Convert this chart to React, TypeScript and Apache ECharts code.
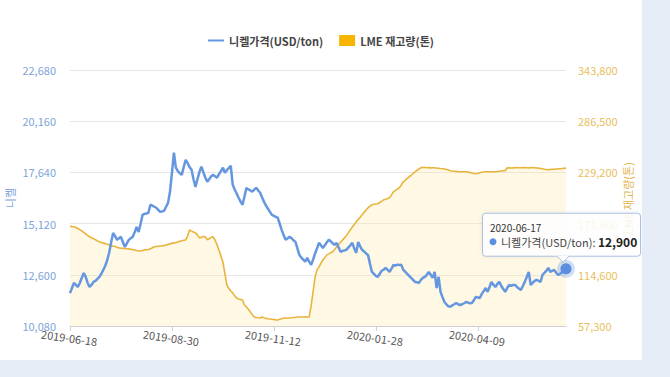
import React, { useEffect, useRef } from "react";
import * as echarts from "echarts";

// LME trading days between the first and last date (weekends and UK holidays excluded)
const START_DATE = "2019-06-18";
const END_DATE = "2020-06-17";
const HOLIDAYS = ["2019-08-26", "2019-12-25", "2019-12-26", "2020-01-01", "2020-04-10", "2020-04-13", "2020-05-08", "2020-05-25"];

function buildDates(start: string, end: string, holidays: string[]): string[] {
  const out: string[] = [];
  const d = new Date(start + "T00:00:00Z");
  const e = new Date(end + "T00:00:00Z");
  while (d <= e) {
    const day = d.getUTCDay();
    const s = d.toISOString().slice(0, 10);
    if (day !== 0 && day !== 6 && holidays.indexOf(s) < 0) out.push(s);
    d.setUTCDate(d.getUTCDate() + 1);
  }
  return out;
}
const dates = buildDates(START_DATE, END_DATE, HOLIDAYS);

const nickelPrice = [
  11700, 11950, 12200, 12100, 12000, 12200, 12450, 12690, 12500, 12200,
  12000, 12100, 12250, 12300, 12400, 12500, 12650, 12840, 13050, 13330,
  13700, 14200, 14660, 14500, 14320, 14400, 14470, 14200, 13970, 14150,
  14320, 14400, 14470, 14700, 14960, 14710, 15100, 15550, 15600, 15620,
  15650, 16050, 16000, 15950, 15900, 15800, 15700, 15720, 15750, 15950,
  16140, 16690, 17600, 18610, 17870, 17700, 17600, 17520, 17900, 18260,
  18100, 17900, 17770, 17300, 16930, 17300, 17650, 17920, 17650, 17400,
  17180, 17300, 17450, 17520, 17450, 17380, 17550, 17700, 17870, 17620,
  17750, 17850, 17970, 17030, 16800, 16600, 16390, 16200, 16050, 16450,
  16880, 16800, 16750, 16690, 16800, 16880, 16750, 16640, 16400, 16190,
  16000, 15850, 15700, 15550, 15500, 15450, 15400, 15100, 14800, 14550,
  14320, 14400, 14470, 14400, 14300, 14220, 13900, 13580, 13450, 13350,
  13240, 13430, 13250, 13090, 13350, 13650, 13900, 14170, 14050, 13920,
  14050, 14200, 14320, 14250, 14150, 14070, 14170, 13950, 13730, 13780,
  13800, 13830, 13950, 14050, 14170, 13900, 13680, 14220, 14000, 13830,
  13750, 13650, 13580, 13150, 12740, 12650, 12550, 12500, 12650, 12800,
  12850, 12940, 12850, 12740, 12900, 13090, 13050, 13100, 13080, 13090,
  12840, 12750, 12650, 12550, 12450, 12350, 12250, 12230, 12200, 12350,
  12450, 12500, 12600, 12740, 12600, 12450, 12740, 11950, 12500, 11760,
  11500, 11260, 11150, 11050, 11020, 11100, 11150, 11210, 11150, 11110,
  11150, 11200, 11260, 11230, 11200, 11210, 11350, 11510, 11480, 11460,
  11650, 11800, 11950, 11760, 12000, 12250, 12100, 12000, 12150, 12250,
  12050, 11900, 11760, 11950, 12100, 12050, 12100, 12100, 12000, 11920,
  11860, 12050, 12250, 12500, 12740, 12100, 12200, 12300, 12350, 12300,
  12250, 12590, 12700, 12800, 12940, 12740, 12800, 12840, 12700, 12590,
  12650, 12750, 12700, 12900,
];

const lmeStock = [
  169000, 168500, 168300, 167500, 166500, 165000, 163800, 162000, 160500, 158800,
  157100, 156000, 155000, 153800, 152600, 151500, 150800, 150200, 149500, 148800,
  148100, 147500, 146800, 146200, 145400, 144700, 144400, 144200, 144000, 143800,
  143600, 143200, 142800, 142300, 141800, 141400, 141200, 141800, 142500, 142700,
  143000, 143600, 144800, 145900, 146200, 146500, 146800, 147000, 147400, 147800,
  148500, 149200, 149800, 150300, 150800, 151400, 152000, 152600, 153200, 153700,
  158000, 164900, 163500, 162500, 161500, 159300, 155900, 156500, 157500, 157100,
  153700, 155000, 156500, 157100, 153500, 148100, 142000, 135500, 129000, 116000,
  103300, 99500, 96500, 94300, 91000, 88700, 87500, 87000, 86400, 80800,
  78500, 76000, 73000, 70000, 67400, 66800, 66500, 66300, 67400, 66500,
  65800, 65400, 65100, 64800, 64500, 64200, 64000, 64800, 65500, 66300,
  66300, 66200, 66300, 66500, 66800, 67000, 67400, 67400, 67300, 67400,
  67500, 67400, 67400, 80000, 95400, 112000, 120100, 123400, 127500, 131300,
  134000, 136900, 138000, 139200, 140300, 143000, 145900, 148500, 151000, 153500,
  155900, 158500, 161800, 164900, 168000, 171000, 173900, 176500, 179000, 181700,
  184500, 187000, 189600, 191500, 193000, 193500, 193800, 194100, 195500, 197000,
  198500, 199200, 200000, 200800, 204000, 207500, 209000, 210500, 212000, 215000,
  218700, 220500, 222500, 224300, 226000, 228000, 229900, 231500, 233000, 234400,
  234800, 234600, 234400, 234500, 234300, 234400, 234400, 234000, 233800, 233500,
  233300, 233000, 232500, 231800, 231100, 230800, 230500, 230300, 230100, 230000,
  229900, 229900, 229900, 229500, 229000, 228500, 228000, 227700, 228200, 228800,
  229300, 229600, 229900, 230000, 229900, 229900, 230000, 229900, 230200, 230500,
  230800, 231000, 231100, 234400, 234300, 234200, 234300, 234400, 234500, 234400,
  234400, 234500, 234500, 234400, 234300, 234400, 234500, 234400, 234200, 234000,
  233600, 233200, 232800, 232500, 232200, 232400, 232600, 232800, 233000, 233200,
  233300, 233500, 233800, 234000,
];

const LEFT_MIN = 10080;
const LEFT_MAX = 22680;
const LEFT_STEP = 2520;
const RIGHT_MIN = 57300;
const RIGHT_MAX = 343800;
const RIGHT_STEP = 57300;

const NICKEL_NAME = "니켈가격(USD/ton)";
const LME_NAME = "LME 재고량(톤)";
const LEFT_AXIS_NAME = "니켈";
const RIGHT_AXIS_NAME = "LME 재고량(톤)";
const LABEL_EVERY = 52;
const TIP_INDEX = nickelPrice.length - 1;

const FONT = "'Noto Sans CJK KR', 'Noto Sans', sans-serif";
const BLUE = "#6596e0";
const ORANGE = "#e9b43c";

export default function App() {
  const ref = useRef<HTMLDivElement>(null);
  useEffect(() => {
    document.body.style.margin = "0";
    if (!ref.current) return;
    const chart = echarts.init(ref.current, undefined, { renderer: "svg" });
    chart.setOption({
      animation: false,
      textStyle: { fontFamily: FONT },
      legend: {
        top: 30,
        left: "center",
        itemGap: 16,
        itemWidth: 16,
        itemHeight: 11,
        textStyle: { fontFamily: FONT, fontSize: 11, fontWeight: "bold", color: "#444" },
        data: [
          { name: NICKEL_NAME, icon: "path://M0,0 H16 V2 H0 Z", itemStyle: { color: BLUE } },
          { name: LME_NAME, icon: "rect", itemStyle: { color: "#f6b500" } },
        ],
      },
      grid: { left: 70, right: 76, top: 70, bottom: 34, outerBoundsMode: "none", containLabel: false },
      xAxis: {
        type: "category",
        data: dates,
        boundaryGap: false,
        axisLine: { lineStyle: { color: "#cfcfcf" } },
        axisTick: { interval: LABEL_EVERY - 1, length: 5, lineStyle: { color: "#cfcfcf" } },
        axisLabel: {
          interval: LABEL_EVERY - 1,
          rotate: -8,
          align: "center",
          verticalAlign: "top",
          margin: 6,
          color: "#555",
          fontSize: 11,
          fontFamily: FONT,
        },
        splitLine: { show: false },
      },
      yAxis: [
        {
          type: "value",
          min: LEFT_MIN,
          max: LEFT_MAX,
          interval: LEFT_STEP,
          name: LEFT_AXIS_NAME,
          nameLocation: "middle",
          nameGap: 55,
          nameMoveOverlap: false,
          nameTextStyle: { color: "#7ea4d8", fontSize: 11, fontFamily: FONT },
          axisLine: { show: false },
          axisTick: { show: false },
          axisLabel: { color: "#7ea4d8", fontSize: 11, margin: 14, fontFamily: FONT },
          splitLine: { lineStyle: { color: "#e6e6e6" } },
        },
        {
          type: "value",
          min: RIGHT_MIN,
          max: RIGHT_MAX,
          interval: RIGHT_STEP,
          name: RIGHT_AXIS_NAME,
          nameLocation: "middle",
          nameGap: 56,
          nameMoveOverlap: false,
          nameTextStyle: { color: "#e3b44a", fontSize: 11, fontFamily: FONT },
          axisLine: { show: false },
          axisTick: { show: false },
          axisLabel: { color: "#e8bf5c", fontSize: 11, margin: 12, fontFamily: FONT },
          splitLine: { show: false },
        },
      ],
      series: [
        {
          name: NICKEL_NAME,
          type: "line",
          yAxisIndex: 0,
          data: nickelPrice,
          showSymbol: false,
          symbol: "none",
          z: 3,
          lineStyle: { color: BLUE, width: 2.5 },
          itemStyle: { color: BLUE },
        },
        {
          name: LME_NAME,
          type: "line",
          yAxisIndex: 1,
          data: lmeStock,
          showSymbol: false,
          symbol: "none",
          z: 2,
          lineStyle: { color: ORANGE, width: 1.6 },
          itemStyle: { color: "#f6b500" },
          areaStyle: { color: "rgba(253, 232, 170, 0.45)" },
        },
      ],
    });

    const p = chart.convertToPixel({ seriesIndex: 0 }, [TIP_INDEX, nickelPrice[TIP_INDEX]]) as number[];
    const px = p[0];
    const py = p[1];
    const tipValue = nickelPrice[TIP_INDEX].toLocaleString("en-US");
    chart.setOption({
      graphic: [
        { type: "circle", z: 50, shape: { cx: px, cy: py, r: 9 }, style: { fill: "rgba(101,150,224,0.3)" } },
        { type: "circle", z: 51, shape: { cx: px, cy: py, r: 5.5 }, style: { fill: "#5b8ee0" } },
        {
          type: "rect",
          z: 60,
          shape: { x: px - 83.5, y: py - 55.5, width: 158, height: 43, r: 3 },
          style: { fill: "rgba(255,255,255,0.86)", stroke: "#a9c1e4", lineWidth: 1, shadowBlur: 4, shadowColor: "rgba(0,0,0,0.08)" },
        },
        {
          type: "polygon",
          z: 61,
          shape: { points: [[px - 9, py - 13], [px + 3, py - 13], [px - 3, py - 7]] },
          style: { fill: "#ffffff" },
        },
        {
          type: "polyline",
          z: 62,
          shape: { points: [[px - 9, py - 12.5], [px - 3, py - 6.5], [px + 3, py - 12.5]] },
          style: { stroke: "#a9c1e4", lineWidth: 1, fill: "none" },
        },
        {
          type: "text",
          z: 63,
          x: px - 76,
          y: py - 41,
          style: { text: dates[TIP_INDEX], fontSize: 10, fill: "#333", fontFamily: FONT, verticalAlign: "middle" },
        },
        { type: "circle", z: 63, shape: { cx: px - 73, cy: py - 27, r: 3.5 }, style: { fill: "#5b8ee0" } },
        {
          type: "text",
          z: 63,
          x: px - 65,
          y: py - 27,
          style: {
            text: "{a|" + NICKEL_NAME + ": }{b|" + tipValue + "}",
            verticalAlign: "middle",
            fontFamily: FONT,
            rich: {
              a: { fontSize: 11, fill: "#444", fontFamily: FONT },
              b: { fontSize: 12, fill: "#222", fontWeight: "bold", fontFamily: FONT },
            },
          },
        },
      ],
    });
    return () => chart.dispose();
  }, []);

  return (
    <div style={{ width: 670, height: 377, background: "#e6edf6", position: "relative", overflow: "hidden" }}>
      <div ref={ref} style={{ position: "absolute", left: 0, top: 0, width: 642, height: 360, background: "#ffffff" }} />
    </div>
  );
}
